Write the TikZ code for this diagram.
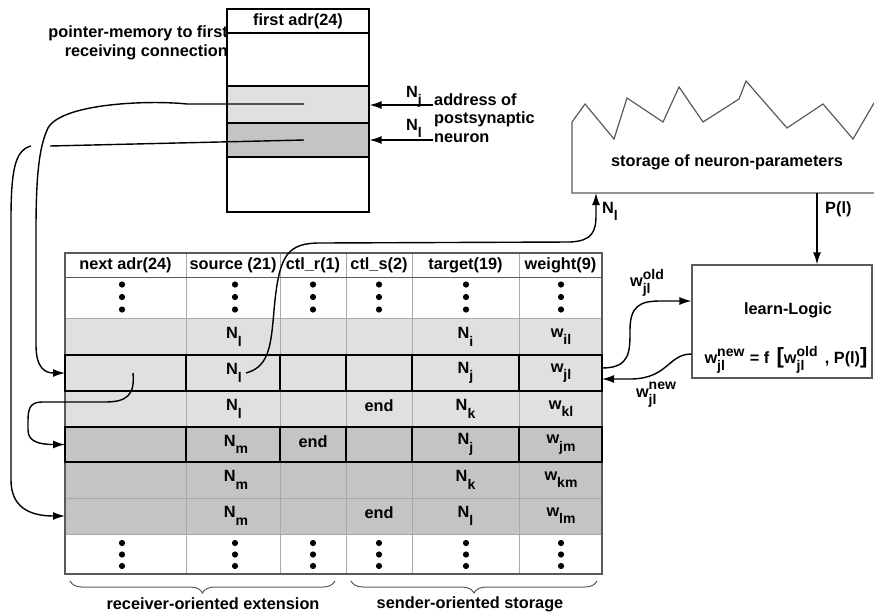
\documentclass[tikz,border=0pt]{standalone}
\usepackage{fontspec}
\setmainfont{Liberation Sans}
\usetikzlibrary{arrows.meta,decorations.pathreplacing,calc}
\definecolor{lightg}{HTML}{E0E0E0}
\definecolor{darkg}{HTML}{C4C4C4}
\definecolor{gridg}{HTML}{A8A8A8}
\definecolor{edgeg}{HTML}{5A5A5A}
\newcommand\subf{\fontsize{14}{14}\selectfont}
\newcommand\Sb[2]{#1\raisebox{-0.45em}{\subf #2}}
\newcommand\SbSp[3]{#1\rlap{\raisebox{-0.45em}{\subf #3}}\raisebox{0.45em}{\subf #2}}
\newcommand\bigbr[1]{{\fontsize{22}{22}\selectfont #1}}
\begin{document}
\begin{tikzpicture}[x=1pt,y=-1pt,
  font=\fontsize{16.3}{18.5}\selectfont\bfseries,
  curve/.style={line width=1.4pt,black},
  arr/.style={curve,-{Latex[length=12pt,width=8pt]}},
  gridline/.style={line width=0.8pt,gridg},
  thickcell/.style={line width=2.6pt,black},
  rowbox/.style={minimum width=537pt,inner sep=0pt,outer sep=0pt},
  txt/.style={inner sep=1pt}]
\useasboundingbox (0,0) rectangle (874,614);

% ---------------- memory block ----------------
\fill[lightg] (227,86) rectangle (369,123);
\fill[darkg] (227,123) rectangle (369,157);
\draw[line width=1.1pt] (227,33) -- (369,33);
\draw[line width=1.1pt] (227,86) -- (369,86);
\draw[line width=1.1pt] (227,123) -- (369,123);
\draw[line width=1.1pt] (227,157) -- (369,157);
\node[draw=black,line width=1.2pt,minimum width=142pt,minimum height=203pt,inner sep=0pt] (mem) at (298,110.5) {};
\node[txt] (memh) at (298,21) {first adr(24)};
\node[txt,align=right,anchor=east] (ptxt) at (229,43) {pointer-memory to first\\receiving connection};
\coordinate (mj) at (304,104);
\coordinate (ml) at (304,140);
\coordinate (aj) at (433,105);
\coordinate (al) at (433,140);
\draw[arr] (aj) -- (aj -| mem.east);
\draw[arr] (al) -- (al -| mem.east);
\node[txt,anchor=base west] (lnj) at (405,97) {\Sb{N}{j}};
\node[txt,anchor=base west] (lnl) at (405,130) {\Sb{N}{l}};
\node[txt,align=left,anchor=west] (addr) at (433,118) {address of\\postsynaptic\\neuron};

% ---------------- storage ----------------
\draw[line width=1.2pt,edgeg] (874,103) -- (853,139) -- (823,104) -- (787,128) -- (746,81) -- (739,99) -- (703,122) -- (679,87) -- (663,122) -- (627,98) -- (614,139) -- (585,104) -- (572,122) -- (572,193) -- (874,193);
\node[txt] (stor) at (727,162) {storage of neuron-parameters};
\coordinate (storN) at (596,193);
\coordinate (storP) at (817,193);

% ---------------- learn logic ----------------
\node[draw=edgeg,line width=1.2pt,minimum width=180pt,minimum height=113pt,inner sep=0pt] (ll) at (782,321.5) {};
\node[txt] (llt) at (788,310) {learn-Logic};
\node[txt] (form) at (786,360) {\SbSp{w}{new}{jl}\,\,= f\, \bigbr{[}\SbSp{w}{old}{jl}\;\,, P(l)\bigbr{]}};
\draw[arr] (storP) -- (storP |- ll.north);
\node[txt,anchor=base west] (pl) at (824,213) {P(l)};
\node[txt,anchor=base west] (nlab) at (601,213) {\Sb{N}{l}};

% ---------------- table ----------------
\fill[white] (65,253) rectangle (602,318);
\fill[lightg] (65,318) rectangle (602,427);
\fill[darkg] (65,427) rectangle (602,534);
\fill[white] (65,534) rectangle (602,574);
\node[rowbox,minimum height=36pt] (r2) at (333.5,373) {};
\node[rowbox,minimum height=35pt] (r4) at (333.5,444.5) {};
\node[rowbox,minimum height=36pt] (r6) at (333.5,516) {};
\foreach \x in {186,280,346,412,519} \draw[gridline] (\x,253) -- (\x,574);
\foreach \y in {318,355,391,427,462,498,534} \draw[gridline] (65,\y) -- (602,\y);
\draw[line width=1pt,edgeg] (65,277) -- (602,277);
\draw[line width=1.3pt,edgeg] (65,253) rectangle (602,574);
\foreach \a/\b in {65/186,186/280,280/346,346/412,412/519,519/602} {
  \draw[thickcell] (\a,355) rectangle (\b,391);
  \draw[thickcell] (\a,427) rectangle (\b,462);
}
% header
\node[txt] (h1) at (125.5,265) {next adr(24)};
\node[txt] (h2) at (233,265) {source (21)};
\node[txt] (h3) at (313,265) {ctl\_r(1)};
\node[txt] (h4) at (379,265) {ctl\_s(2)};
\node[txt] (h5) at (465.5,265) {target(19)};
\node[txt] (h6) at (560.5,265) {weight(9)};
% dots
\foreach \x in {122,235,313,379,466,561} {
  \foreach \y in {284.5,297,309.5,543,554.5,566} \fill (\x,\y) circle (3.1pt);
}
% cells
\node[txt] (s1) at (234,337) {\Sb{N}{l}};
\node[txt] (s2) at (234,373) {\Sb{N}{l}};
\node[txt] (s3) at (234,409) {\Sb{N}{l}};
\node[txt] (s4) at (236,444.5) {\Sb{N}{m}};
\node[txt] (s5) at (236,480) {\Sb{N}{m}};
\node[txt] (s6) at (236,516) {\Sb{N}{m}};
\node[txt] (t1) at (465.5,337) {\Sb{N}{i}};
\node[txt] (t2) at (465.5,373) {\Sb{N}{j}};
\node[txt] (t3) at (465.5,409) {\Sb{N}{k}};
\node[txt] (t4) at (465.5,444.5) {\Sb{N}{j}};
\node[txt] (t5) at (465.5,480) {\Sb{N}{k}};
\node[txt] (t6) at (465.5,516) {\Sb{N}{l}};
\node[txt] (w1) at (561,337) {\Sb{w}{il}};
\node[txt] (w2) at (561,373) {\Sb{w}{jl}};
\node[txt] (w3) at (561,409) {\Sb{w}{kl}};
\node[txt] (w4) at (561,444.5) {\Sb{w}{jm}};
\node[txt] (w5) at (561,480) {\Sb{w}{km}};
\node[txt] (w6) at (561,516) {\Sb{w}{lm}};
\node[txt] (e3) at (379,406) {end};
\node[txt] (e4) at (313,441.5) {end};
\node[txt] (e6) at (379,513) {end};
\coordinate (na2) at (133,373);

% braces
\draw[decorate,decoration={brace,mirror,amplitude=12pt},line width=1pt,edgeg] (70,581) -- (335,581);
\draw[decorate,decoration={brace,mirror,amplitude=12pt},line width=1pt,edgeg] (351,581) -- (597,581);
\node[txt] (lb1) at (213,604) {receiver-oriented extension};
\node[txt] (lb2) at (470,604) {sender-oriented storage};

% ---------------- connectors ----------------
\coordinate (bg1) at (50,146);
\coordinate (bg2) at (31,146);
\draw[curve] (ml) -- (bg1);
\draw[arr] (bg2) .. controls (15,150) and (11,170) .. (11,220) -- (11,480) .. controls (11,506) and (28,516) .. (r6.west);
\draw[arr] (mj) -- (187,104) .. controls (150,100) and (62,103) .. (48,128) .. controls (40,145) and (36,170) .. (36,230) -- (36,345) .. controls (36,368) and (45,373) .. (r2.west);
\draw[arr] (na2) .. controls (135,395) and (127,402) .. (105,402) -- (42,402) .. controls (29,402) and (28,410) .. (28,422) -- (28,430) .. controls (28,441) and (38,444.5) .. (r4.west);
\draw[arr] ([xshift=3pt]s2.east) .. controls (272,366) and (271,340) .. (275,300) .. controls (280,255) and (288,243) .. (320,243) -- (570,242) .. controls (592,241) and (596,232) .. (596,215) -- (storN);
\draw[arr] ([yshift=5pt]r2.east) .. controls (630,368) and (630,352) .. (630,330) .. controls (630,306) and (640,301) .. (660,301) -- ([yshift=20.5pt]ll.west);
\draw[arr] ([yshift=-32.5pt]ll.west) .. controls (668,354) and (668,379) .. (630,379) -- ([yshift=-6pt]r2.east);
\node[txt] (wold) at (647,283) {\SbSp{w}{old}{jl}};
\node[txt] (wnew) at (656,395) {\SbSp{w}{new}{jl}};
\end{tikzpicture}
\end{document}
